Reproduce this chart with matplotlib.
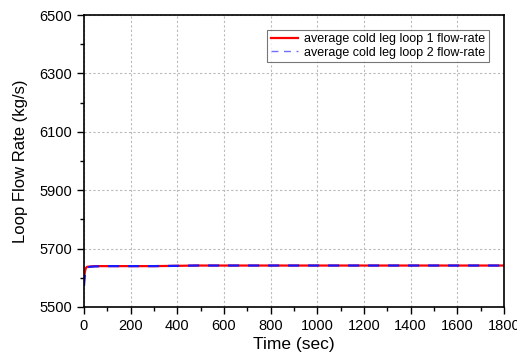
import matplotlib
matplotlib.use("Agg")
import matplotlib.pyplot as plt
from matplotlib.ticker import MultipleLocator, FixedLocator

plt.rcParams['font.family'] = ['Liberation Sans', 'DejaVu Sans']

time_s = [0, 2, 5, 8, 12, 16, 20, 30, 50, 100, 200, 300, 400, 480, 500, 600, 800, 1000, 1200, 1400, 1600, 1800]
loop1 = [5590, 5610, 5625, 5633, 5637, 5638, 5638, 5639, 5640, 5640, 5640, 5640, 5641, 5642, 5642, 5642, 5642, 5642, 5642, 5642, 5642, 5642]
loop2 = [5572, 5595, 5617, 5628, 5634, 5636, 5637, 5638, 5639, 5640, 5640, 5640, 5641, 5642, 5642, 5642, 5642, 5642, 5642, 5642, 5642, 5642]
y_ticks = [5500, 5700, 5900, 6100, 6300, 6500]

fig = plt.figure(figsize=(5.17, 3.52), dpi=100)
ax = fig.add_axes([84/517, 1-307/352, 420/517, 292/352])

ax.plot(time_s, loop1, color='#ff0000', lw=1.6, label='average cold leg loop 1 flow-rate')
ax.plot(time_s, loop2, color='#1a1aff', lw=1.6, dashes=(5, 4), label='average cold leg loop 2 flow-rate')

ax.set_xlim(0, 1800)
ax.set_ylim(5500, 6500)
ax.xaxis.set_major_locator(MultipleLocator(200))
ax.xaxis.set_minor_locator(MultipleLocator(100))
ax.yaxis.set_major_locator(FixedLocator(y_ticks))
ax.yaxis.set_minor_locator(MultipleLocator(100))
ax.tick_params(which='both', direction='out', top=False, right=False, labelsize=10.5)
ax.tick_params(which='major', length=5, width=1)
ax.tick_params(which='minor', length=3, width=1)
ax.grid(True, which='major', color='#bbbbbb', ls=(0, (2, 2)), lw=0.8)
for s in ax.spines.values():
    s.set_linewidth(1.2)

ax.set_xlabel('Time (sec)', fontsize=12.5, labelpad=3)
ax.set_ylabel('Loop Flow Rate (kg/s)', fontsize=12, labelpad=8)

leg = ax.legend(loc='upper right', bbox_to_anchor=(0.965, 0.95), fontsize=9, frameon=True,
                fancybox=False, edgecolor='#555555', handlelength=2.2, borderpad=0.3,
                labelspacing=0.1, handletextpad=0.5, borderaxespad=0)
leg.get_frame().set_linewidth(0.8)
leg.get_lines()[1].set_color('#7070ff')
leg.get_lines()[1].set_linewidth(1.0)

fig.savefig('out.png', dpi=100)
